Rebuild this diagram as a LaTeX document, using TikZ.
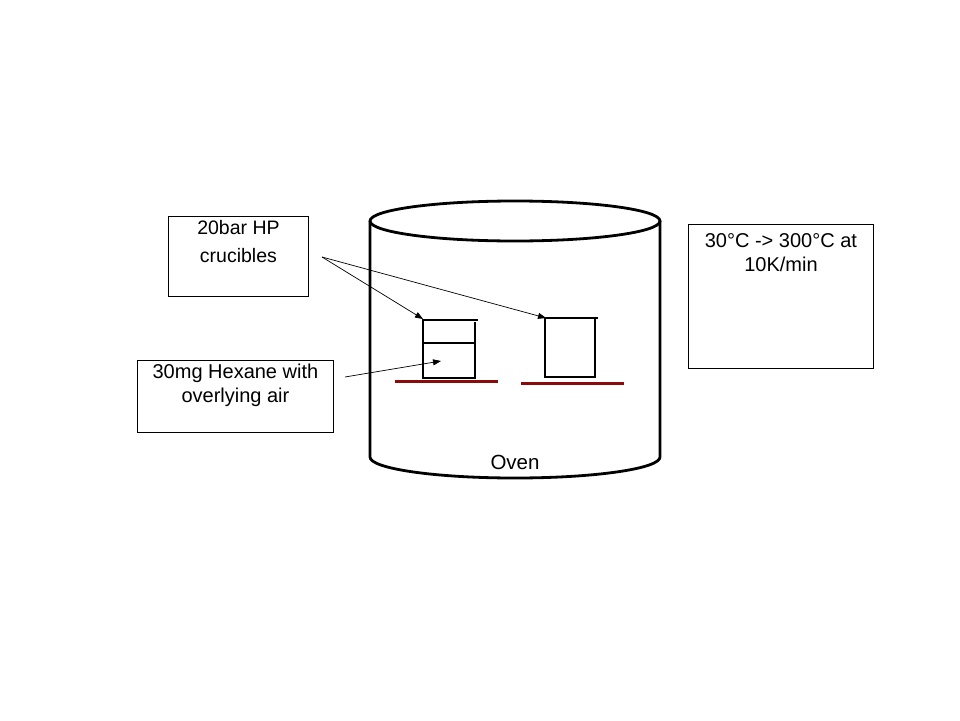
\documentclass[tikz,border=0pt]{standalone}
\usepackage{fontspec}
\setmainfont{Liberation Sans}
\usetikzlibrary{arrows.meta}

\tikzset{
  box/.style={draw, line width=0.9pt, inner sep=0pt},
  boxtext/.style={below, align=center, inner sep=0pt, font=\fontsize{20}{24}\selectfont},
  pot/.style={line width=1.8pt, line cap=rect},
  plate/.style={line width=3pt, color=darkred},
  oven/.style={line width=2.8pt}
}
\definecolor{darkred}{RGB}{139,10,10}

\begin{document}
\begin{tikzpicture}[x=1pt,y=-1pt,>={Triangle[length=8pt,width=6pt]}]
\useasboundingbox (0,0) rectangle (960,720);
% oven
\draw[oven] (515,221) ellipse [x radius=145, y radius=20];
\draw[oven] (370,221) -- (370,457) arc[start angle=180, end angle=0, x radius=145, y radius=21] -- (660,221);
\node[font=\fontsize{20.5}{24}\selectfont] (ovenlabel) at (515,462) {Oven};
% crucibles
\draw[pot] (423,320) -- (477,320) (423,320) -- (423,378) -- (475,378) -- (475,323) (423,343) -- (475,343);
\draw[pot] (545,318) -- (597,318) (545,318) -- (545,377) -- (595,377) -- (595,320);
\draw[plate] (395,381) -- (498,381);
\draw[plate] (521,383) -- (624,383);
% boxes
\node[box, minimum width=140, minimum height=80, anchor=north west] (hp) at (168,216) {};
\node[boxtext, font=\fontsize{19.5}{28}\selectfont] (hptext) at ([yshift=-4]hp.north) {20bar HP\\crucibles};
\node[box, minimum width=196, minimum height=72, anchor=north west] (hex) at (137,360) {};
\node[boxtext] (hextext) at ([yshift=-4]hex.north) {30mg Hexane with\\overlying air};
\node[box, minimum width=185, minimum height=144, anchor=north west] (ramp) at (688,224) {};
\node[boxtext] (ramptext) at ([yshift=-9]ramp.north) {30°C -> 300°C at\\10K/min};
% arrows
\coordinate (hpfrom) at (322,257);
\coordinate (leftpot) at (423,319);
\coordinate (rightpot) at (546,318);
\coordinate (hexfrom) at (345,377);
\coordinate (liquid) at (441,361);
\draw[->, line width=0.7pt] (hpfrom) -- (leftpot);
\draw[->, line width=0.7pt] (hpfrom) -- (rightpot);
\draw[->, line width=0.7pt] (hexfrom) -- (liquid);
\end{tikzpicture}
\end{document}
